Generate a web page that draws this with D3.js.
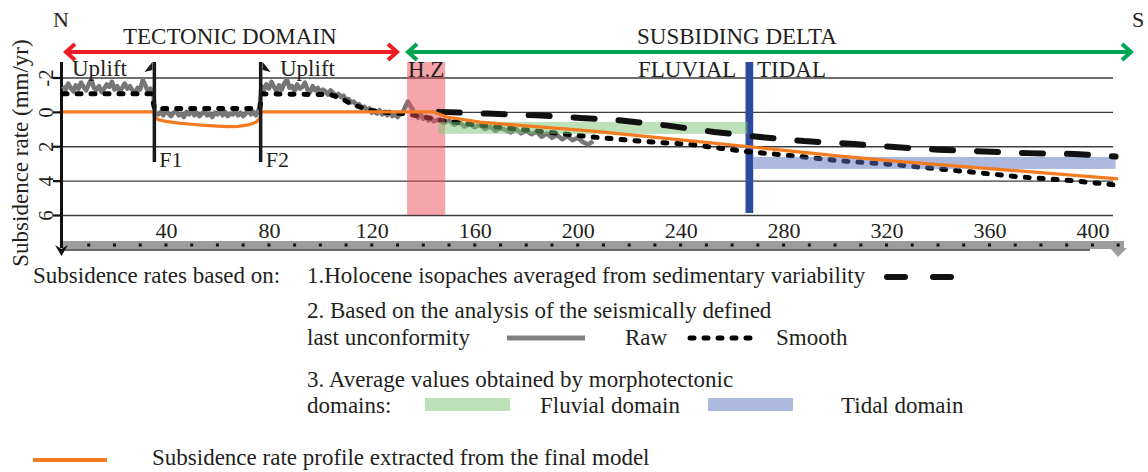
<!DOCTYPE html>
<meta charset="utf-8">
<style>
  body { margin: 0; background: #fff; }
  text { font-family: "Liberation Serif", "Times New Roman", serif; fill: #231f20; }
</style>
<svg width="1148" height="472"></svg>
<script src="https://d3js.org/d3.v7.min.js"></script>
<script>

var svg = d3.select("svg");

// --- data (distance in km, rate in mm/yr) ---
var yTicks = [-2, 0, 2, 4, 6],
    xTicks = [40, 80, 120, 160, 200, 240, 280, 320, 360, 400];

var faults = [["F1", 35.5], ["F2", 76.8]];

var hingeZone = [133.7, 148.5],
    tidalLimit = [265.2, 268.2];

// morphotectonic averages: [km from, km to, rate top, rate bottom]
var fluvialBand = [145.8, 266, 0.58, 1.28],
    tidalBand = [268.3, 409, 2.62, 3.32];

// 2. seismic unconformity, raw
var rawPoints = [
  [0,-1.5],[1,-1.3],[2,-1.65],[3,-1.4],[4,-1.2],[5,-1.55],[6,-1.35],[7,-1.7],[8,-1.45],[9,-1.25],
  [10,-1.6],[11,-1.9],[12,-1.4],[13,-1.3],[14,-1.5],[15,-1.15],[16,-1.35],[17,-1.6],[18,-1.45],
  [19,-1.75],[20,-1.3],[21,-1.5],[22,-1.2],[23,-1.4],[24,-1.65],[25,-1.35],[26,-1.5],[27,-1.25],
  [28,-1.1],[29,-1.4],[30,-1.3],[31,-1.85],[32,-1.55],[33,-1.2],[34,-1.35],[35.2,-0.95],
  [35.6,-0.1],[36,0.1],[37,0.15],[38,0],[39,0.2],[40,-0.1],[41,0.1],[42,0.25],[43,0.05],[44,-0.05],
  [45,0.2],[46,0.1],[47,0.3],[48,0],[49,0.15],[50,-0.1],[51,0.2],[52,0.05],[53,0.25],[54,0.1],
  [55,-0.05],[56,0.2],[57,0.1],[58,0.3],[59,0.05],[60,0.15],[61,-0.1],[62,0.2],[63,0],[64,0.25],
  [65,0.1],[66,0.15],[67,-0.05],[68,0.2],[69,0.05],[70,0.25],[71,0.1],[72,-0.1],[73,0.15],[74,0],
  [75,0.2],[76.4,-0.25],[77.1,-1.5],[78,-1.25],[79,-1.6],[80,-1.35],[81,-1.75],[82,-1.45],[83,-1.2],
  [84,-1.55],[85,-1.3],[86,-1.65],[87,-1.9],[88,-1.4],[89,-1.5],[90,-1.2],[91,-1.6],[92,-1.35],
  [93,-1.45],[94,-1.7],[95,-1.3],[96,-1.15],[97,-1.5],[98,-1.25],[99,-1.4],[100,-1.1],[101,-1.3],
  [102,-1.2],[103,-1.0],[104,-1.25],[105,-1.1],[106,-0.9],[107,-1.05],[108,-0.85],[109,-0.95],
  [110,-0.7],[111,-0.75],[112,-0.55],[113,-0.6],[114,-0.4],[115,-0.45],[116,-0.25],[117,-0.3],
  [118,-0.1],[119,-0.2],[120,0.05],[121,-0.05],[122,0.1],[123,-0.1],[124,0.15],[125,0.05],[126,0.2],
  [127,0],[128,0.25],[129,0.1],[130,0.3],[131,0.15],[132,0.05],[133,-0.3],[134,-0.6],[135,-0.35],
  [136,-0.1],[137,0.2],[138,0.35],[139,0.15],[140,0.4],[141,0.3],[142,0.5],[143,0.35],[144,0.55],
  [146,0.45],[148,0.65],[150,0.5],[152,0.75],[154,0.6],[156,0.85],[158,0.7],[160,0.9],[162,0.75],
  [164,1.0],[166,0.85],[168,1.1],[170,0.95],[172,1.05],[174,1.2],[176,1.0],[178,1.25],[180,1.1],
  [182,1.3],[184,1.15],[186,1.45],[188,1.25],[190,1.5],[192,1.35],[194,1.6],[196,1.4],[198,1.65],
  [200,1.5],[202,1.75],[204,1.9],[206,1.7]
];

// 2. seismic unconformity, smoothed
var smoothPoints = [
  [0,-1.05],[34.5,-1.05],[35.5,-0.2],[76.5,-0.2],[77.3,-1.05],[104,-1.0],[108,-0.8],[112,-0.45],
  [118,-0.15],[123,0],[132,0.1],[139,0.25],[147,0.5],[160,0.75],[180,1.05],[205,1.45],[224,1.7],
  [244,1.9],[265,2.3],[283,2.55],[302,2.85],[322,3.05],[332,3.2],[353,3.5],[373,3.8],[392,4.0],[409,4.25]
];

// 1. Holocene isopaches
var isopachPoints = [
  [146,0],[165,0.1],[184,0.2],[201,0.35],[217,0.5],[235,0.8],[253,1.17],[270,1.45],[288,1.7],
  [306,1.85],[323,2.05],[340,2.2],[358,2.3],[375,2.4],[393,2.45],[409,2.6]
];

// final model profile
var modelPoints = [
  [0,0],[35.3,0],[35.6,0.3],[37,0.45],[40,0.55],[45,0.65],[50,0.72],[55,0.78],[60,0.83],[64,0.86],
  [68,0.84],[72,0.76],[75,0.6],[76.6,0.35],[76.9,0],[144,0],[149,0.3],[162,0.6],[185,0.87],
  [206,1.12],[240,1.63],[265,2.0],[300,2.55],[322,2.85],[360,3.3],[410,3.9]
];

// --- scales ---
var x = d3.scaleLinear().domain([0, 408]).range([63, 1113]),
    y = d3.scaleLinear().domain([-2, 6]).range([77.5, 215]);

var line = d3.line().x(function(d) { return x(d[0]); }).y(function(d) { return y(d[1]); });

var red = "#ec1c24", green = "#00a551", blue = "#2e4a9f";

// grid lines
svg.append("g")
    .attr("transform", "translate(62,0)")
    .call(d3.axisLeft(y).tickValues(yTicks).tickSize(-(1113 - 62)).tickFormat(""))
    .call(function(g) { g.select(".domain").remove(); })
    .selectAll("line").attr("stroke", "#3c3c3c").attr("stroke-width", 1.4);

// y axis ticks + rotated labels
var yAxis = svg.append("g")
    .attr("transform", "translate(62,0)")
    .call(d3.axisLeft(y).tickValues(yTicks).tickSize(9).tickFormat(function(d) { return String(d); }));
yAxis.select(".domain").remove();
yAxis.selectAll("line").attr("stroke", "#111").attr("stroke-width", 2.2);
yAxis.selectAll("text")
    .attr("transform", "rotate(-90)")
    .attr("x", 0).attr("y", -9).attr("dy", null)
    .attr("text-anchor", "middle")
    .style("font-size", "21px").style("font-family", "Liberation Serif").attr("fill", "#231f20");

svg.append("text")
    .attr("transform", "translate(28,153) rotate(-90)")
    .attr("text-anchor", "middle")
    .style("font-size", "23px")
    .text("Subsidence rate (mm/yr)");

// x axis labels
var xAxis = svg.append("g")
    .attr("transform", "translate(0,215)")
    .call(d3.axisBottom(x).tickValues(xTicks).tickSize(0).tickPadding(7));
xAxis.select(".domain").remove();
xAxis.selectAll("text").style("font-size", "22px").style("font-family", "Liberation Serif").attr("fill", "#231f20");

// gray distance bar at the bottom
svg.append("rect").attr("x", 62).attr("y", 241).attr("width", 1062).attr("height", 8).attr("fill", "#9d9d9f");
svg.append("path").attr("d", "M1110,248L1127,248L1118,257Z").attr("fill", "#9d9d9f");
svg.append("line").attr("x1", 62).attr("x2", 1090).attr("y1", 250).attr("y2", 250)
    .attr("stroke", "#3a3a3a").attr("stroke-width", 1.6);
svg.append("g").selectAll("rect")
    .data(d3.range(10, 411, 10))
    .join("rect")
    .attr("x", function(d) { return x(d) - 1.5; })
    .attr("y", 243.5).attr("width", 3).attr("height", 3).attr("fill", "#111");

// y axis line with arrow
svg.append("line").attr("x1", 61.5).attr("x2", 61.5).attr("y1", 62).attr("y2", 248)
    .attr("stroke", "#111").attr("stroke-width", 3);
svg.append("path").attr("d", "M55,245L61.5,256L68,245L61.5,249Z").attr("fill", "#111");

// blue tidal limit bar
svg.append("rect")
    .attr("x", x(tidalLimit[0])).attr("width", x(tidalLimit[1]) - x(tidalLimit[0]))
    .attr("y", 62).attr("height", 151)
    .attr("fill", blue);

// series
svg.append("path").datum(rawPoints).attr("d", line)
    .attr("fill", "none").attr("stroke", "#767676").attr("stroke-width", 4.5)
    .attr("stroke-linejoin", "round");

svg.append("path").datum(smoothPoints).attr("d", line)
    .attr("fill", "none").attr("stroke", "#000").attr("stroke-width", 5)
    .attr("stroke-linecap", "round").attr("stroke-dasharray", "4,10");

// hinge zone + domain bands over the seismic lines
svg.append("rect")
    .attr("x", x(hingeZone[0])).attr("width", x(hingeZone[1]) - x(hingeZone[0]))
    .attr("y", 62).attr("height", 153)
    .attr("fill", "#ee4b55").attr("fill-opacity", 0.5);

[[fluvialBand, "#7cc576"], [tidalBand, "#5b72bf"]].forEach(function(b) {
  var d = b[0];
  svg.append("rect")
      .attr("x", x(d[0])).attr("width", x(d[1]) - x(d[0]))
      .attr("y", y(d[2])).attr("height", y(d[3]) - y(d[2]))
      .attr("fill", b[1]).attr("fill-opacity", 0.5);
});

svg.append("path").datum(isopachPoints).attr("d", line)
    .attr("fill", "none").attr("stroke", "#111").attr("stroke-width", 6)
    .attr("stroke-linecap", "round").attr("stroke-dasharray", "21,24");

svg.append("path").datum(modelPoints).attr("d", line)
    .attr("fill", "none").attr("stroke", "#f47b20").attr("stroke-width", 3.2)
    .attr("stroke-linejoin", "round");

// faults
faults.forEach(function(f, i) {
  var fx = x(f[1]);
  svg.append("line").attr("x1", fx).attr("x2", fx).attr("y1", 62).attr("y2", 162)
      .attr("stroke", "#1a1a1a").attr("stroke-width", 3.5);
  var s = i === 0 ? -1 : 1;
  svg.append("path")
      .attr("d", "M" + (fx + s * 2) + ",62L" + (fx + s * 10) + ",72L" + (fx + s * 2) + ",70Z")
      .attr("fill", "#1a1a1a");
  svg.append("text").attr("x", fx + 5).attr("y", 167).style("font-size", "22px").text(f[0]);
});

// top domain arrows
function arrow(x1, x2, color) {
  svg.append("line").attr("x1", x1 + 2).attr("x2", x2 - 2).attr("y1", 52).attr("y2", 52)
      .attr("stroke", color).attr("stroke-width", 4);
  svg.append("path")
      .attr("d", "M" + (x1 + 11) + ",44L" + (x1 + 2) + ",52L" + (x1 + 11) + ",60"
           + "M" + (x2 - 11) + ",44L" + (x2 - 2) + ",52L" + (x2 - 11) + ",60")
      .attr("fill", "none").attr("stroke", color).attr("stroke-width", 4);
}
arrow(64, 399, red);
arrow(406, 1133, green);

function label(t, lx, ly, size, color) {
  return svg.append("text").attr("x", lx).attr("y", ly)
      .style("font-size", size + "px").attr("fill", color || "#231f20").text(t);
}
label("N", 53, 27, 22);
label("S", 1132, 27, 22);
label("TECTONIC DOMAIN", 123, 44, 23, red);
label("SUSBIDING DELTA", 637, 44, 23, green);
label("Uplift", 72, 76, 23);
label("Uplift", 280, 76, 23);
label("H.Z", 408, 77, 23, red);
label("FLUVIAL", 638, 77, 23, green);
label("TIDAL", 757, 77, 23, blue);

// legend
label("Subsidence rates based on:", 33, 283, 23);
label("1.Holocene isopaches averaged from sedimentary variability", 307, 283, 23);
label("2. Based on the analysis of the seismically defined", 307, 318, 23);
label("last unconformity", 307, 345, 23);
label("Raw", 625, 345, 23);
label("Smooth", 776, 345, 23);
label("3. Average values obtained by morphotectonic", 307, 387, 23);
label("domains:", 307, 413, 23);
label("Fluvial domain", 540, 413, 23);
label("Tidal domain", 841, 413, 23);
label("Subsidence rate profile extracted from the final model", 152, 465, 23);

svg.append("line").attr("x1", 887).attr("x2", 957).attr("y1", 277).attr("y2", 277)
    .attr("stroke", "#111").attr("stroke-width", 6).attr("stroke-linecap", "round")
    .attr("stroke-dasharray", "18,28");
svg.append("line").attr("x1", 507).attr("x2", 585).attr("y1", 338).attr("y2", 338)
    .attr("stroke", "#808080").attr("stroke-width", 5);
svg.append("line").attr("x1", 690).attr("x2", 760).attr("y1", 338).attr("y2", 338)
    .attr("stroke", "#000").attr("stroke-width", 5).attr("stroke-linecap", "round")
    .attr("stroke-dasharray", "4,10");
svg.append("rect").attr("x", 425).attr("y", 398).attr("width", 85).attr("height", 13)
    .attr("fill", "#7cc576").attr("fill-opacity", 0.5);
svg.append("rect").attr("x", 708).attr("y", 398).attr("width", 85).attr("height", 13)
    .attr("fill", "#5b72bf").attr("fill-opacity", 0.5);
svg.append("line").attr("x1", 33).attr("x2", 107).attr("y1", 460).attr("y2", 460)
    .attr("stroke", "#f47b20").attr("stroke-width", 4);

</script>
